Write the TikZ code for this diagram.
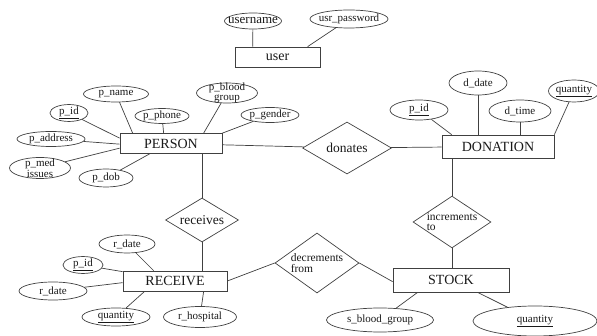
\documentclass[tikz,border=0pt]{standalone}
\usepackage{fontspec}
\setmainfont{Liberation Serif}
\usetikzlibrary{shapes.geometric}

\begin{document}
\begin{tikzpicture}[x=1pt,y=-1pt]
    \def\attrfont{\fontsize{11}{10.5}\selectfont}
    \def\relfont{\fontsize{13.5}{10}\selectfont}

    \tikzstyle{entity}=[draw=black!75,rectangle,inner sep=0pt,line width=0.7pt,font=\fontsize{14}{14}\selectfont,text=black!90]
    \tikzstyle{attrib}=[draw=black!75,ellipse,inner sep=0pt,line width=0.7pt,font=\attrfont,text=black!90]
    \tikzstyle{relation}=[draw=black!75,diamond,aspect=1.5,inner sep=0pt,line width=0.7pt,font=\relfont,text=black!90]
    \tikzstyle{link}=[draw=black!75,line width=0.7pt]

    \useasboundingbox (0,0) rectangle (597,336);

    % user
    \node[entity,minimum width=85pt,minimum height=20pt] (user) at (277.5,57) {user};
    \node[attrib,minimum width=57pt,minimum height=16pt,inner xsep=-6pt,font=\fontsize{13}{13}\selectfont] (uname) at (253,21) {username};
    \node[attrib,minimum width=78pt,minimum height=18pt,inner xsep=-5pt] (upass) at (349,19) {usr\_password};

    % person
    \node[entity,minimum width=102pt,minimum height=20pt] (person) at (171,143.5) {PERSON};
    \node[attrib,minimum width=65pt,minimum height=16pt] (pname) at (116,94) {p\_name};
    \node[attrib,minimum width=38pt,minimum height=13pt] (pid) at (69,113) {\underline{p\_id}};
    \node[attrib,minimum width=54pt,minimum height=15pt] (pphone) at (162,116) {p\_phone};
    \node[attrib,minimum width=61pt,minimum height=20pt,inner ysep=-4pt,align=center] (pblood) at (227,93) {p\_blood\\group};
    \node[attrib,minimum width=55pt,minimum height=15pt] (pgender) at (270,115) {p\_gender};
    \node[attrib,minimum width=68pt,minimum height=15pt] (paddr) at (51,139) {p\_address};
    \node[attrib,minimum width=61pt,minimum height=21pt,inner ysep=-4pt,align=center] (pmed) at (40,168) {p\_med\\issues};
    \node[attrib,minimum width=54pt,minimum height=18pt] (pdob) at (106,178) {p\_dob};

    % donation
    \node[relation,minimum width=89pt,minimum height=52pt] (donates) at (347,148) {donates};
    \node[entity,minimum width=112pt,minimum height=23pt] (donation) at (498,146.5) {DONATION};
    \node[attrib,minimum width=58pt,minimum height=20pt] (dpid) at (419,110) {\underline{p\_id}};
    \node[attrib,minimum width=58pt,minimum height=24pt] (ddate) at (478,83) {d\_date};
    \node[attrib,minimum width=62pt,minimum height=22pt] (dtime) at (520,111) {d\_time};
    \node[attrib,minimum width=48pt,minimum height=22pt] (dqty) at (574,91) {\underline{quantity}};

    % stock
    \node[relation,minimum width=78pt,minimum height=50pt,align=left,font=\fontsize{11.5}{10.5}\selectfont] (incr) at (452,222) {increments\\to};
    \node[entity,minimum width=116pt,minimum height=24pt] (stock) at (451,280) {STOCK};
    \node[relation,minimum width=84pt,minimum height=60pt,align=left,font=\fontsize{11.5}{10.5}\selectfont] (decr) at (317,263) {decrements\\from};
    \node[attrib,minimum width=107pt,minimum height=24pt] (sblood) at (380,320) {s\_blood\_group};
    \node[attrib,minimum width=124pt,minimum height=30pt] (sqty) at (535,321) {\underline{quantity}};

    % receive
    \node[relation,minimum width=73pt,minimum height=44pt] (receives) at (202,220) {receives};
    \node[entity,minimum width=104pt,minimum height=20pt] (receive) at (175,281) {RECEIVE};
    \node[attrib,minimum width=56pt,minimum height=18pt] (rdate1) at (127,244) {r\_date};
    \node[attrib,minimum width=40pt,minimum height=15pt] (rpid) at (83,265) {\underline{p\_id}};
    \node[attrib,minimum width=68pt,minimum height=18pt] (rdate2) at (53,291) {r\_date};
    \node[attrib,minimum width=68pt,minimum height=18pt] (rqty) at (116,317) {\underline{quantity}};
    \node[attrib,minimum width=73pt,minimum height=21pt] (rhosp) at (200,317) {r\_hospital};

    \draw[link] (uname) -- ([xshift=18pt]user.north west);
    \draw[link] (upass) -- ([xshift=73pt]user.north west);

    \draw[link] (pname) -- ([xshift=13pt]person.north west);
    \draw[link] (pid) -- ([yshift=-5pt]person.north west);
    \draw[link] (pphone) -- ([xshift=44pt]person.north west);
    \draw[link] (pblood) -- ([xshift=84pt]person.north west);
    \draw[link] (pgender) -- (person.north east);
    \draw[link] (paddr) -- ([yshift=-11pt]person.north west);
    \draw[link] (pmed) -- ([yshift=-15pt]person.north west);
    \draw[link] (pdob) -- ([xshift=30pt]person.south west);
    \draw[link] (person) -- (donates);
    \draw[link] (donates) -- (donation);
    \draw[link] (receives.north |- person.south) -- (receives.north);

    \draw[link] (dpid) -- ([xshift=10pt]donation.north west);
    \draw[link] (ddate) -- (ddate |- donation.north);
    \draw[link] (dtime) -- (dtime |- donation.north);
    \draw[link] (dqty) -- (donation.north east);
    \draw[link] (incr.north |- donation.south) -- (incr.north);

    \draw[link] (incr.south) -- (incr.south |- stock.north);
    \draw[link] (decr.east) -- ([yshift=-14pt]stock.north west);
    \draw[link] (sblood) -- ([xshift=25pt]stock.south west);
    \draw[link] (sqty) -- ([xshift=85pt]stock.south west);

    \draw[link] (receives.south) -- (receives.south |- receive.north);
    \draw[link] (receive.east) -- (decr.west);
    \draw[link] (rdate1) -- ([xshift=31pt]receive.north west);
    \draw[link] (rpid) -- ([yshift=-1pt]receive.north west);
    \draw[link] (rdate2) -- ([yshift=-12pt]receive.north west);
    \draw[link] (rqty) -- ([xshift=22pt]receive.south west);
    \draw[link] (rhosp) -- ([xshift=81pt]receive.south west);
\end{tikzpicture}
\end{document}
